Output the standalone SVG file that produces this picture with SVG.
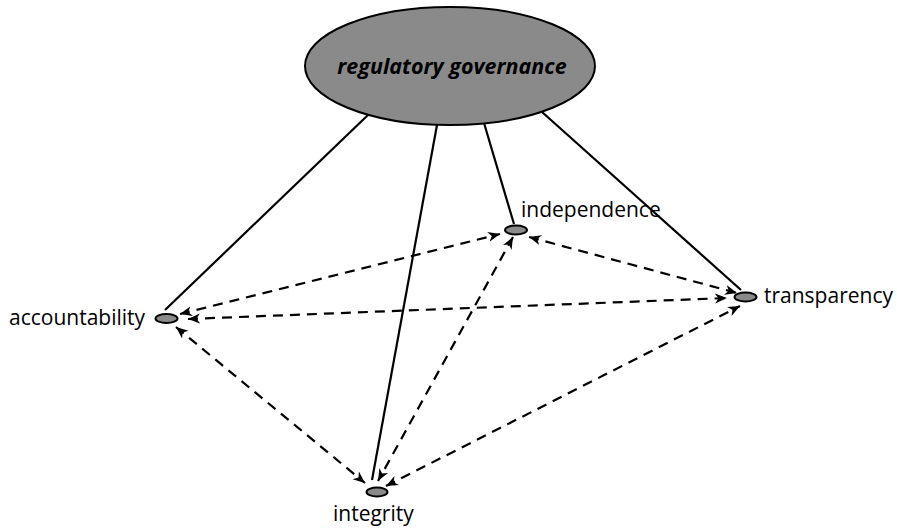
<svg xmlns="http://www.w3.org/2000/svg" width="897" height="532" viewBox="0 0 897 532">
<style>
.node{fill:#8a8a8a;stroke:#000;stroke-width:2}
.lbl{font-family:"Open Sans","Liberation Sans",sans-serif;font-size:21px;fill:#000}
.title{font-family:"Open Sans","Liberation Sans",sans-serif;font-size:21.5px;font-weight:bold;font-style:italic;fill:#000}
.solid{stroke:#000;stroke-width:2.2;fill:none}
.dash{stroke:#000;stroke-width:2.2;fill:none;stroke-dasharray:10 7;marker-start:url(#ah);marker-end:url(#ah)}
</style>
<defs>
<marker id="ah" markerUnits="userSpaceOnUse" markerWidth="13" markerHeight="11" refX="12" refY="5" orient="auto-start-reverse" viewBox="0 0 13 10">
<path d="M0,0 L12,5 L0,10 L3.5,5 z" fill="#000"/>
</marker>
</defs>
<rect width="897" height="532" fill="#fff"/>
<g id="connectors">
<line class="solid" x1="368" y1="115" x2="165" y2="310"/>
<line class="solid" x1="437" y1="125" x2="372" y2="480"/>
<line class="solid" x1="484" y1="123" x2="514" y2="224"/>
<line class="solid" x1="542" y1="112" x2="741" y2="290"/>
<line class="dash" x1="180" y1="314" x2="500" y2="234"/>
<line class="dash" x1="188" y1="319" x2="727" y2="298"/>
<line class="dash" x1="176" y1="327" x2="365" y2="483"/>
<line class="dash" x1="529" y1="237" x2="737" y2="293"/>
<line class="dash" x1="513" y1="237" x2="378" y2="481"/>
<line class="dash" x1="386" y1="486" x2="740" y2="306"/>
</g>
<g id="regulatory-governance">
<ellipse class="node" cx="450" cy="66" rx="145" ry="59"/>
<text class="title" x="452" y="74" text-anchor="middle">regulatory governance</text>
</g>
<g id="accountability">
<ellipse class="node" cx="166.5" cy="318.5" rx="11" ry="4.5"/>
<text class="lbl" x="9" y="325">accountability</text>
</g>
<g id="independence">
<ellipse class="node" cx="516" cy="230" rx="11" ry="4.5"/>
<text class="lbl" x="521" y="217">independence</text>
</g>
<g id="transparency">
<ellipse class="node" cx="745.5" cy="297" rx="11" ry="4.5"/>
<text class="lbl" x="764" y="303">transparency</text>
</g>
<g id="integrity">
<ellipse class="node" cx="377" cy="492" rx="10.5" ry="4.5"/>
<text class="lbl" x="333" y="521">integrity</text>
</g>
</svg>
